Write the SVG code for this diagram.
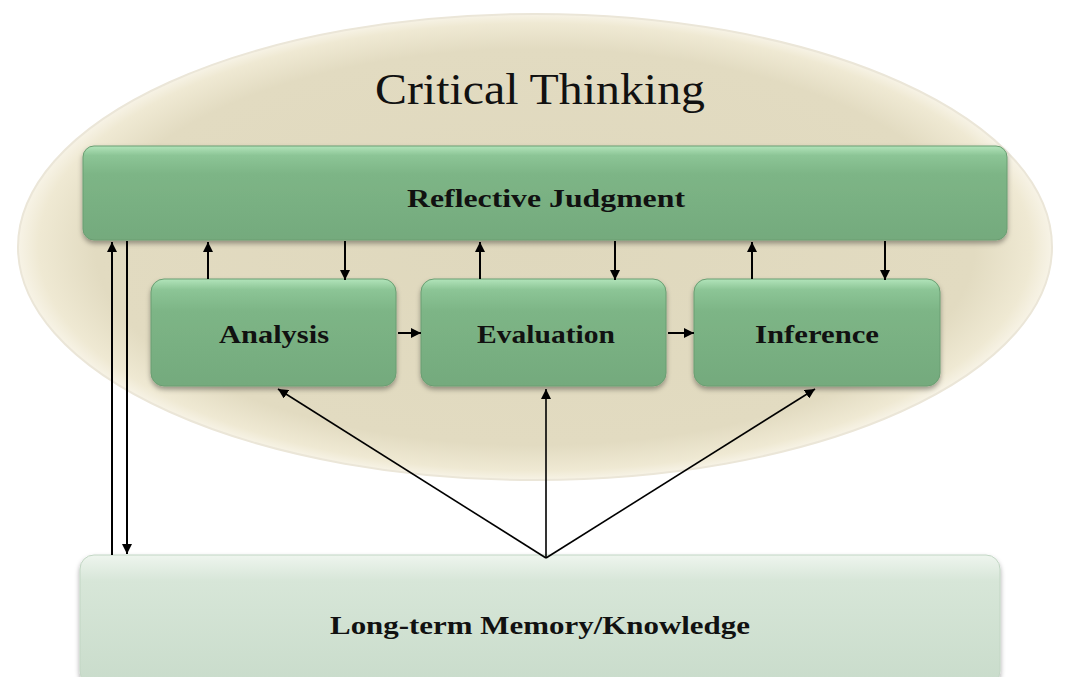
<svg xmlns="http://www.w3.org/2000/svg" width="1069" height="677" viewBox="0 0 1069 677">
<defs>
<radialGradient id="ellG" cx="0.5" cy="0.5" r="0.5">
<stop offset="0" stop-color="#dfd8bd"/>
<stop offset="0.85" stop-color="#e2dbc1"/>
<stop offset="0.96" stop-color="#efe9d3"/>
<stop offset="1" stop-color="#f7f3e6"/>
</radialGradient>
<linearGradient id="greenG" x1="0" y1="0" x2="0" y2="1">
<stop offset="0" stop-color="#b2e4ba"/>
<stop offset="0.1" stop-color="#8cc596"/>
<stop offset="0.3" stop-color="#7db586"/>
<stop offset="1" stop-color="#74aa7d"/>
</linearGradient>
<linearGradient id="memG" x1="0" y1="0" x2="0" y2="1">
<stop offset="0" stop-color="#eef5ee"/>
<stop offset="0.2" stop-color="#d7e6d8"/>
<stop offset="1" stop-color="#c9dccb"/>
</linearGradient>
<filter id="sh" x="-5%" y="-10%" width="110%" height="130%">
<feDropShadow dx="0" dy="3" stdDeviation="2.5" flood-color="#000" flood-opacity="0.35"/>
</filter>
<marker id="ah" viewBox="0 0 10 10" refX="10" refY="5" markerWidth="10" markerHeight="10" markerUnits="userSpaceOnUse" orient="auto">
<path d="M0,0 L10,5 L0,10 z" fill="#000"/>
</marker>
<style>
.box{fill:url(#greenG);stroke:#6a9e72;stroke-width:1;filter:url(#sh)}
.mem{fill:url(#memG);stroke:#c2d6c4;stroke-width:1;filter:url(#sh)}
.lbl{font-family:"Liberation Serif",serif;font-weight:bold;fill:#111;text-anchor:middle}
.con{stroke:#000;stroke-width:2;fill:none;marker-end:url(#ah)}
.ln{stroke:#000;stroke-width:1.6;fill:none}
</style>
</defs>
<rect width="1069" height="677" fill="#fff"/>
<g id="critical-thinking">
<ellipse cx="535" cy="247" rx="517" ry="233" fill="url(#ellG)" stroke="#ebe6d8" stroke-width="2"/>
<text x="540" y="104" font-family="Liberation Serif,serif" font-size="44" fill="#111" text-anchor="middle" textLength="330" lengthAdjust="spacingAndGlyphs">Critical Thinking</text>
</g>
<g id="reflective-judgment">
<rect class="box" x="83" y="146" width="924" height="94" rx="11"/>
<text class="lbl" x="546" y="207" font-size="25" textLength="278" lengthAdjust="spacingAndGlyphs">Reflective Judgment</text>
</g>
<g id="analysis">
<rect class="box" x="151" y="279" width="245" height="107" rx="13"/>
<text class="lbl" x="274" y="343" font-size="26" textLength="110" lengthAdjust="spacingAndGlyphs">Analysis</text>
</g>
<g id="evaluation">
<rect class="box" x="421" y="279" width="245" height="107" rx="13"/>
<text class="lbl" x="546" y="343" font-size="26" textLength="138" lengthAdjust="spacingAndGlyphs">Evaluation</text>
</g>
<g id="inference">
<rect class="box" x="694" y="279" width="246" height="107" rx="13"/>
<text class="lbl" x="817" y="343" font-size="26" textLength="124" lengthAdjust="spacingAndGlyphs">Inference</text>
</g>
<g id="long-term-memory">
<rect class="mem" x="80" y="555" width="920" height="130" rx="14"/>
<text class="lbl" x="540" y="634" font-size="26" textLength="420" lengthAdjust="spacingAndGlyphs">Long-term Memory/Knowledge</text>
</g>
<g id="connectors">
<line class="con" x1="112" y1="555" x2="112" y2="242"/>
<line class="con" x1="127" y1="241" x2="127" y2="554"/>
<line class="con" x1="208" y1="279" x2="208" y2="242"/>
<line class="con" x1="345" y1="241" x2="345" y2="280"/>
<line class="con" x1="480" y1="279" x2="480" y2="242"/>
<line class="con" x1="615" y1="241" x2="615" y2="280"/>
<line class="con" x1="752" y1="279" x2="752" y2="242"/>
<line class="con" x1="885" y1="241" x2="885" y2="280"/>
<line class="con" x1="398" y1="333" x2="421" y2="333"/>
<line class="con" x1="668" y1="333" x2="694" y2="333"/>
<line class="ln" x1="546" y1="558" x2="278" y2="389" marker-end="url(#ah)"/>
<line class="ln" x1="546" y1="558" x2="546" y2="389" marker-end="url(#ah)"/>
<line class="ln" x1="546" y1="558" x2="815" y2="389" marker-end="url(#ah)"/>
</g>
</svg>
